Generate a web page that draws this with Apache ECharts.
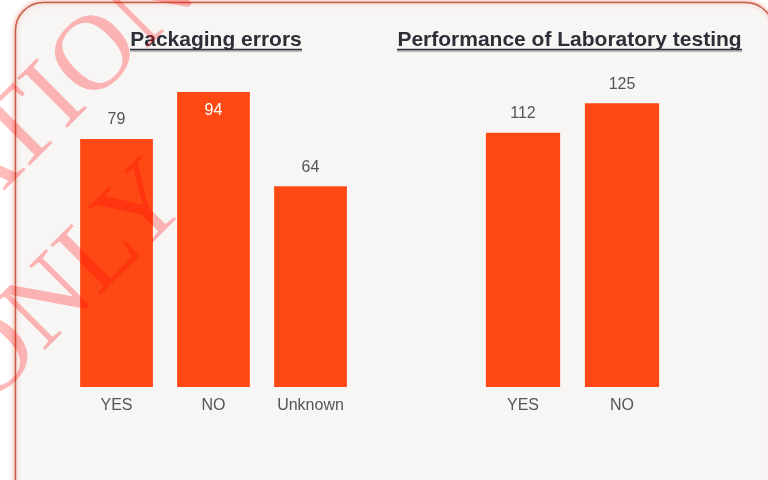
<!DOCTYPE html>
<html>
<head>
<meta charset="utf-8">
<script src="https://cdn.jsdelivr.net/npm/echarts@6/dist/echarts.min.js"></script>
<style>html,body{margin:0;padding:0;background:#fff}#c{width:768px;height:480px}</style>
</head>
<body>
<div id="c"></div>
<script>
var titleLeft = 'Packaging errors';
var titleRight = 'Performance of Laboratory testing';
var catsLeft = ['YES', 'NO', 'Unknown'];
var valsLeft = [79, 94, 64];
var catsRight = ['YES', 'NO'];
var valsRight = [112, 125];
var watermarkLine1 = 'EVALUATION';
var watermarkLine2 = 'ONLY';

var barColor = '#ff4915';
var labelFont = 'Liberation Sans, Arial, sans-serif';

function axisX(idx, cats) {
  return {
    type: 'category', gridIndex: idx, data: cats,
    axisLine: {show: false}, axisTick: {show: false},
    axisLabel: {color: '#555', fontSize: 16, fontFamily: labelFont, margin: 11}
  };
}
function axisY(idx, max) {
  return {type: 'value', gridIndex: idx, min: 0, max: max, show: false, splitLine: {show: false}};
}
function barData(vals, maxv) {
  return vals.map(function (v) {
    if (v === maxv) {
      return {value: v, label: {position: 'insideTop', color: '#fff', distance: 11}};
    }
    return v;
  });
}

var chart = echarts.init(document.getElementById('c'));
chart.setOption({
  backgroundColor: '#ffffff',
  animation: false,
  grid: [
    {left: 68, width: 291, top: 92, height: 295},
    {left: 473.5, width: 198, top: 92, height: 295}
  ],
  xAxis: [axisX(0, catsLeft), axisX(1, catsRight)],
  yAxis: [axisY(0, 94), axisY(1, 130)],
  series: [
    {
      type: 'bar', xAxisIndex: 0, yAxisIndex: 0, barWidth: '75%',
      data: barData(valsLeft, 94),
      itemStyle: {color: barColor},
      label: {show: true, position: 'top', distance: 11, color: '#555', fontSize: 16, fontFamily: labelFont}
    },
    {
      type: 'bar', xAxisIndex: 1, yAxisIndex: 1, barWidth: '75%',
      data: valsRight,
      itemStyle: {color: barColor},
      label: {show: true, position: 'top', distance: 11, color: '#555', fontSize: 16, fontFamily: labelFont}
    }
  ],
  graphic: [
    {
      type: 'rect', z: -10, silent: true,
      shape: {x: 15.5, y: 2.5, width: 758, height: 540, r: 28},
      style: {fill: '#f8f6f5', stroke: '#c4604a', lineWidth: 1.5,
        shadowBlur: 5, shadowColor: 'rgba(235,120,100,0.7)'}
    },
    {
      type: 'text', z: 5, x: 216, y: 40,
      style: {text: titleLeft, font: 'bold 21px Liberation Sans, Arial, sans-serif', fill: '#2d2f38',
        align: 'center', verticalAlign: 'middle',
        shadowColor: 'rgba(0,0,0,0.35)', shadowOffsetY: 1.5, shadowOffsetX: 0.5, shadowBlur: 1}
    },
    {
      type: 'line', z: 5, shape: {x1: 130, y1: 49.5, x2: 302, y2: 49.5},
      style: {stroke: '#2d2f38', lineWidth: 1.5, shadowColor: 'rgba(0,0,0,0.35)', shadowOffsetY: 1.5, shadowBlur: 1}
    },
    {
      type: 'text', z: 5, x: 569.5, y: 40,
      style: {text: titleRight, font: 'bold 21px Liberation Sans, Arial, sans-serif', fill: '#2d2f38',
        align: 'center', verticalAlign: 'middle',
        shadowColor: 'rgba(0,0,0,0.35)', shadowOffsetY: 1.5, shadowOffsetX: 0.5, shadowBlur: 1}
    },
    {
      type: 'line', z: 5, shape: {x1: 397, y1: 49.5, x2: 742, y2: 49.5},
      style: {stroke: '#2d2f38', lineWidth: 1.5, shadowColor: 'rgba(0,0,0,0.35)', shadowOffsetY: 1.5, shadowBlur: 1}
    },
    {
      type: 'text', z: 100, silent: true, x: 180, y: -25, rotation: Math.PI / 4,
      style: {text: watermarkLine1, font: '108px Liberation Serif, Times New Roman, serif',
        fill: 'rgba(255,0,0,0.27)', align: 'right', verticalAlign: 'middle'}
    },
    {
      type: 'text', z: 100, silent: true, x: 172, y: 183, rotation: Math.PI / 4,
      style: {text: watermarkLine2, font: '108px Liberation Serif, Times New Roman, serif',
        fill: 'rgba(255,0,0,0.27)', align: 'right', verticalAlign: 'middle'}
    }
  ]
});
</script>
</body>
</html>
